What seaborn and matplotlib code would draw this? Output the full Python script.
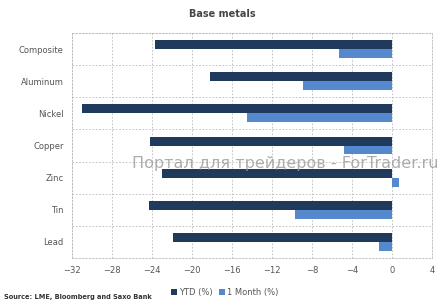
import matplotlib
matplotlib.use("Agg")
import matplotlib.pyplot as plt
import seaborn as sns
import pandas as pd
from matplotlib.ticker import MultipleLocator, FixedLocator

categories = ["Composite", "Aluminum", "Nickel", "Copper", "Zinc", "Tin", "Lead"]
ytd = [-23.7, -18.2, -31.0, -24.2, -23.0, -24.3, -21.9]
one_month = [-5.3, -8.9, -14.5, -4.8, 0.7, -9.7, -1.3]
series_names = ["YTD (%)", "1 Month (%)"]
colors = ["#1f3a5c", "#5588cc"]

df = pd.DataFrame({
    "metal": categories * 2,
    "value": ytd + one_month,
    "series": [series_names[0]] * len(categories) + [series_names[1]] * len(categories),
})

sns.set_style("white")
plt.rcParams['font.family'] = ['DejaVu Sans']

fig = plt.figure(figsize=(4.45, 3.06), dpi=100)
ax = fig.add_axes([0.162, 0.157, 0.809, 0.735])

sns.barplot(data=df, y="metal", x="value", hue="series", orient="h",
            palette=colors, width=0.56, ax=ax, legend=False,
            edgecolor="none", saturation=1)

ax.set_xlim(-32, 4)
ax.set_ylim(len(categories) - 0.5, -0.5)
ax.xaxis.set_major_locator(MultipleLocator(4))
ax.yaxis.set_minor_locator(FixedLocator([i + 0.5 for i in range(-1, len(categories))]))
ax.grid(True, axis="x", which="major", linestyle=(0, (2, 2)), color="#bbbbbb", linewidth=0.6)
ax.grid(True, axis="y", which="minor", linestyle=(0, (2, 2)), color="#bbbbbb", linewidth=0.6)
ax.set_axisbelow(True)
for s in ax.spines.values():
    s.set_linestyle((0, (2, 2)))
    s.set_color("#bbbbbb")
    s.set_linewidth(0.6)

ax.tick_params(axis="both", which="both", length=0, labelsize=6, colors="#555555", pad=6)
ax.set_xlabel("")
ax.set_ylabel("")

fig.text(0.5, 0.955, "Base metals", ha="center", va="center", fontsize=7,
         fontweight="bold", color="#444444")

# legend
from matplotlib.patches import Patch
handles = [Patch(facecolor=c, edgecolor="none") for c in colors]
fig.legend(handles, series_names, loc="center", bbox_to_anchor=(0.505, 0.045),
           ncol=2, frameon=False, fontsize=6, handlelength=0.7, handleheight=0.7,
           handletextpad=0.2, columnspacing=0.8, labelcolor="#555555")

fig.text(0.01, 0.03, "Source: LME, Bloomberg and Saxo Bank", ha="left", va="center",
         fontsize=4.8, fontweight="bold", color="#333333")

fig.text(0.985, 0.465, "Портал для трейдеров - ForTrader.ru", ha="right", va="center",
         fontsize=11.5, color="#999999", alpha=0.8)

fig.savefig("out.png", dpi=100, facecolor="white")
